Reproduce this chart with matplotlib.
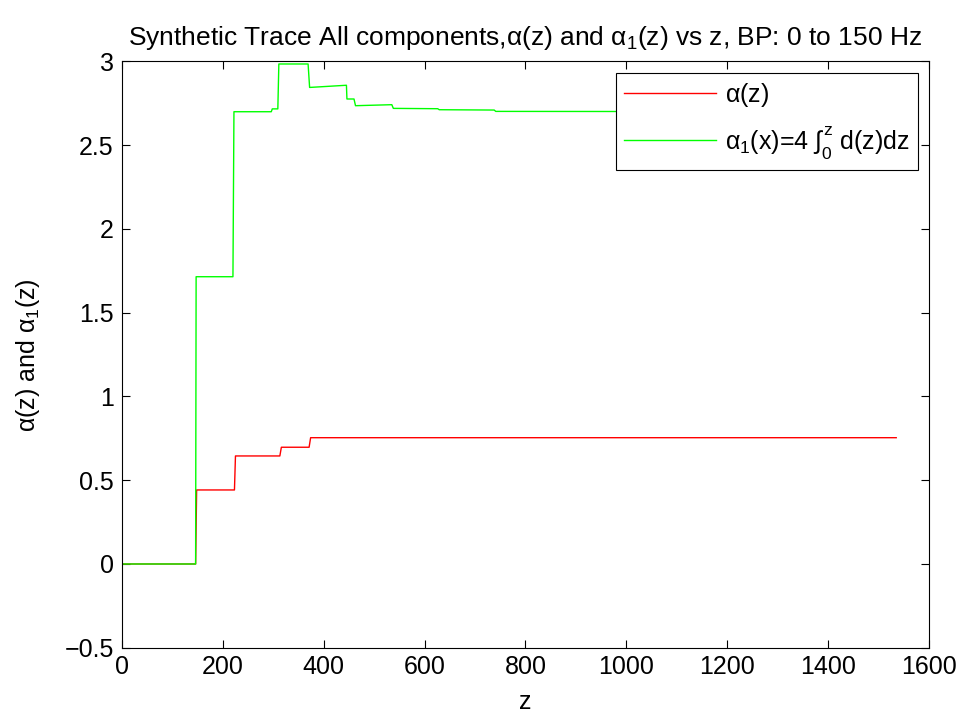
import matplotlib
matplotlib.use("Agg")
import matplotlib.pyplot as plt
import numpy as np

plt.rcParams['font.family'] = ['Liberation Sans', 'DejaVu Sans']
plt.rcParams['mathtext.fontset'] = 'custom'
plt.rcParams['mathtext.rm'] = 'Liberation Sans'
plt.rcParams['mathtext.it'] = 'Liberation Sans'
plt.rcParams['mathtext.bf'] = 'Liberation Sans:bold'

# alpha(z): step breakpoints (z) and levels
alpha_z = [0, 146, 148, 223, 225, 313, 316, 371, 374, 1535]
alpha_v = [0, 0, 0.442, 0.442, 0.645, 0.645, 0.697, 0.697, 0.754, 0.754]

# alpha_1(x): step breakpoints (z) and levels
alpha1_z = [0, 146, 147, 220, 222, 296, 298, 309, 311, 369, 372, 445, 446, 449, 460, 463,
            535, 538, 626, 629, 738, 741, 1535]
alpha1_v = [0, 0, 1.715, 1.715, 2.700, 2.700, 2.717, 2.717, 2.985, 2.985, 2.845, 2.858,
            2.776, 2.776, 2.776, 2.736, 2.742, 2.720, 2.718, 2.712, 2.710, 2.702, 2.700]

fig = plt.figure(figsize=(9.65, 7.19), dpi=100)
ax = fig.add_axes([0.1264, 0.0991, 0.8363, 0.8154])

ax.plot(alpha_z, alpha_v, color='#ff0000', lw=1.0, label=r'$\alpha$(z)')
ax.plot(alpha1_z, alpha1_v, color='#00ff00', lw=1.0,
        label=r'$\alpha_1$(x)=4 $\int_0^z$ d(z)dz')

ax.set_xlim(0, 1600)
ax.set_ylim(-0.5, 3)
ax.set_xticks(np.arange(0, 1601, 200))
ax.set_yticks(np.arange(-0.5, 3.01, 0.5))
ax.set_yticklabels(['\u22120.5', '0', '0.5', '1', '1.5', '2', '2.5', '3'])
ax.tick_params(direction='in', top=True, right=True, labelsize=18, length=6, width=0.8)
ax.tick_params(axis='y', pad=6)
ax.tick_params(axis='x', pad=5)
for s in ax.spines.values():
    s.set_linewidth(0.8)

ax.set_xlabel('z', fontsize=18, labelpad=8)
ax.set_ylabel(r'$\alpha$(z) and $\alpha_1$(z)', fontsize=18, labelpad=16)
ax.set_title(r'Synthetic Trace All components,$\alpha$(z) and $\alpha_1$(z) vs z, BP: 0 to 150 Hz',
             fontsize=19, pad=12)

leg = ax.legend(loc='upper right', fontsize=18, fancybox=False, framealpha=1,
                edgecolor='black', borderaxespad=0.45, handlelength=3.7,
                labelspacing=0.6, borderpad=0.32, handletextpad=0.35)
leg.get_frame().set_linewidth(0.8)

fig.savefig('out.png', dpi=100)
